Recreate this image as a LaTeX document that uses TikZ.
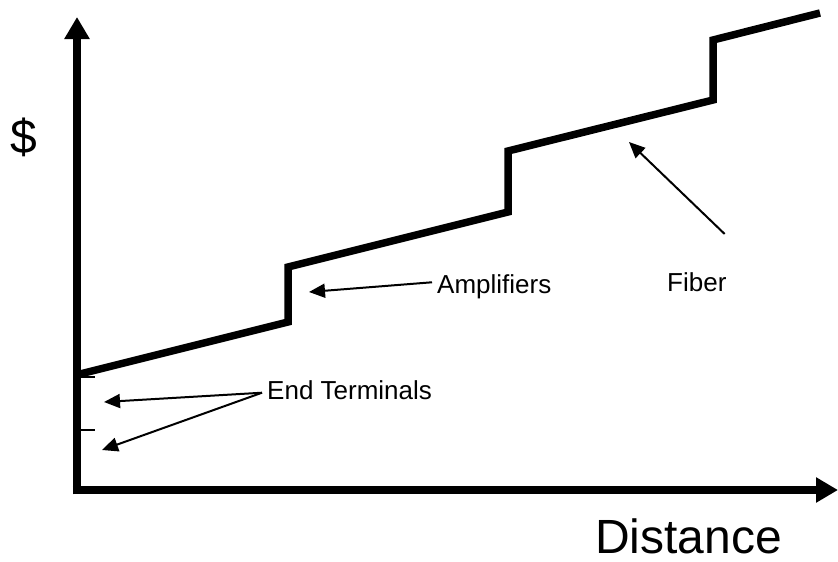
\documentclass[tikz,border=0pt]{standalone}
\usepackage{fontspec}
\setmainfont{Liberation Sans}
\usetikzlibrary{arrows.meta}
\begin{document}
\begin{tikzpicture}[x=1pt,y=-1pt,
  axis/.style={line width=8.5pt, -{Triangle[length=22pt,width=24pt]}},
  cost/.style={line width=7.5pt, line join=miter},
  tick/.style={line width=1.5pt},
  ptr/.style={line width=2pt, -{Triangle[length=16pt,width=14pt]}},
  lbl/.style={inner sep=0pt, anchor=base west, font=\fontsize{26}{30}\selectfont},
  big/.style={inner sep=0pt, anchor=base west, font=\fontsize{48}{56}\selectfont}]
\useasboundingbox (0,0) rectangle (838,562);
% axes
\coordinate (O) at (77,490);
\coordinate (ytip) at (77,17);
\coordinate (xtip) at (838,490);
\draw[axis] ([yshift=-4.25pt]O) -- (ytip);
\draw[axis] ([xshift=-4.25pt]O) -- (xtip);
% ticks
\coordinate (t1a) at (81,377); \coordinate (t1b) at (95,377);
\coordinate (t2a) at (81,430); \coordinate (t2b) at (95,430);
\draw[tick, line width=2pt] (t1a) -- (t1b);
\draw[tick] (t2a) -- (t2b);
% cost staircase
\coordinate (s0) at (80,374);
\coordinate (s1) at (288,322);
\coordinate (s2) at (288,267);
\coordinate (s3) at (508,212);
\coordinate (s4) at (508,151);
\coordinate (s5) at (713,100);
\coordinate (s6) at (713,40);
\coordinate (s7) at (820,13);
\draw[cost] (s0) -- (s1) -- (s2) -- (s3) -- (s4) -- (s5) -- (s6) -- (s7);
% labels
\node[big] (dollar) at (10,153) {\$};
\node[big] (dist) at (595,553) {Distance};
\node[lbl] (amp) at (437,293) {Amplifiers};
\node[lbl] (endt) at (267,399) {End Terminals};
\node[lbl] (fib) at (667,291) {Fiber};
% pointers
\coordinate (ampTip) at (309,292);
\coordinate (endTip1) at (104,402);
\coordinate (endTip2) at (102,450);
\coordinate (fibTip) at (629,142);
\draw[ptr] ([xshift=-5pt,yshift=4pt]amp.west) -- (ampTip);
\draw[ptr] ([xshift=-5pt,yshift=-3pt]endt.west) -- (endTip1);
\draw[ptr] ([xshift=-5pt,yshift=-3pt]endt.west) -- (endTip2);
\draw[ptr] ([xshift=-2pt,yshift=38pt]fib.north east) -- (fibTip);
\end{tikzpicture}
\end{document}
